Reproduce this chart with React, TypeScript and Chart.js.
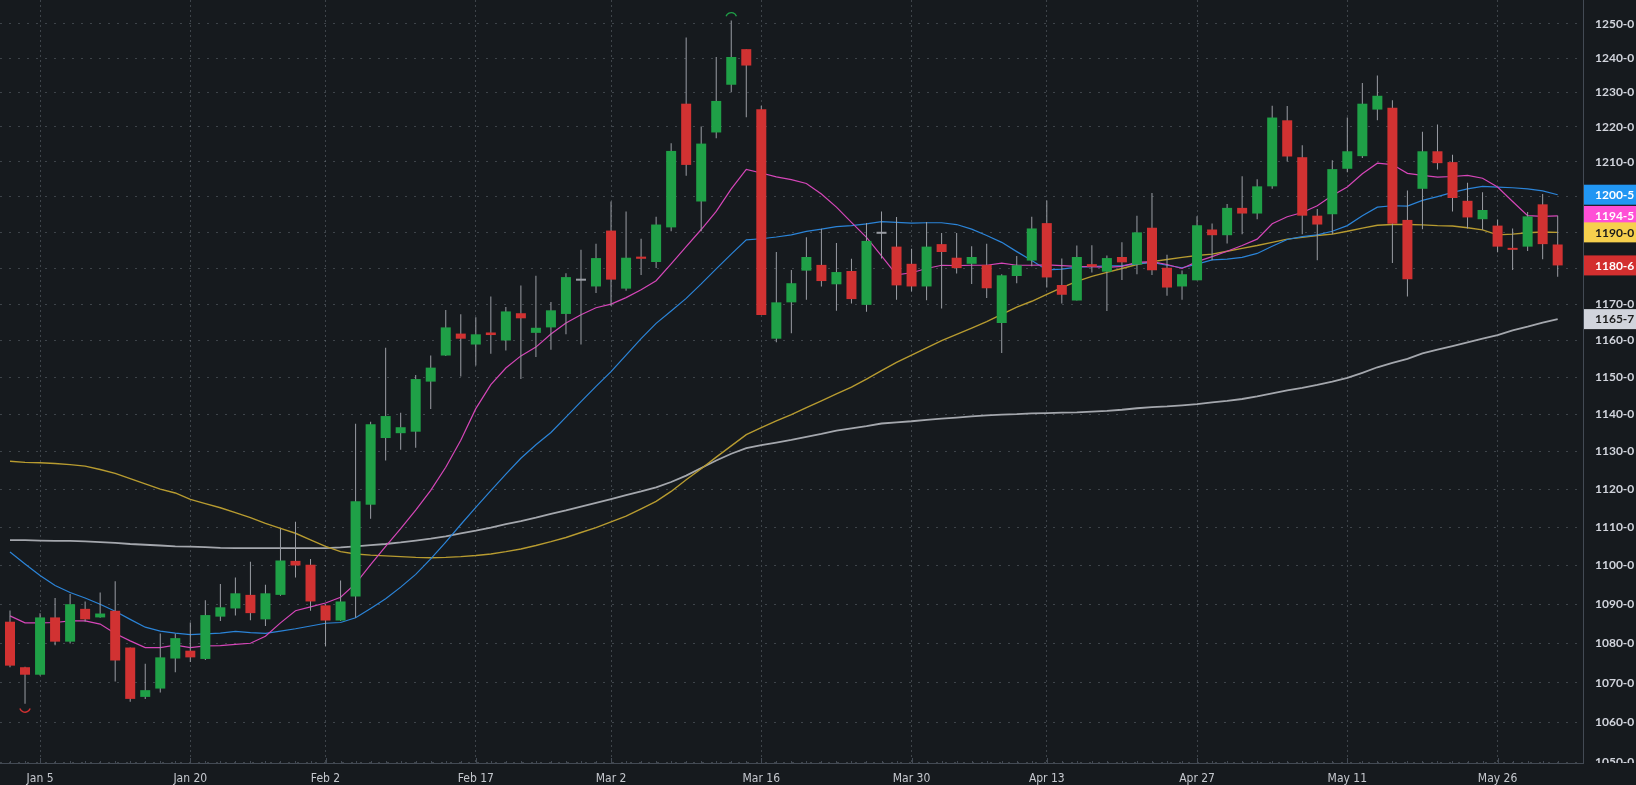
import React, { useEffect, useRef } from "react";
import { Chart, registerables } from "chart.js";

Chart.register(...registerables);

// ---------- data ----------
const opens = [
  1085.5, 1073.9, 1072.0, 1086.6, 1080.4, 1088.8, 1086.6, 1088.3, 1078.9, 1066.4,
  1068.5, 1076.1, 1078.1, 1076.0, 1086.8, 1088.9, 1092.4, 1086.1, 1092.4, 1101.2,
  1100.2, 1089.7, 1085.8, 1092.0, 1115.9, 1133.6, 1134.9, 1135.3, 1148.8, 1155.9,
  1161.9, 1158.9, 1162.2, 1160.0, 1167.5, 1162.1, 1163.6, 1167.3, 1176.5, 1174.9,
  1190.5, 1174.3, 1183.2, 1181.7, 1191.4, 1226.7, 1198.7, 1218.4, 1232.2, 1242.6,
  1225.1, 1160.5, 1170.5, 1179.3, 1180.9, 1175.5, 1179.2, 1169.8, 1189.6, 1186.0,
  1181.2, 1174.9, 1186.7, 1182.9, 1181.2, 1180.9, 1164.8, 1177.8, 1182.1, 1192.6,
  1175.3, 1171.0, 1181.1, 1179.0, 1183.1, 1181.0, 1191.3, 1180.1, 1174.9, 1176.6,
  1190.8, 1189.2, 1196.9, 1195.3, 1203.0, 1221.9, 1211.3, 1194.7, 1195.1, 1208.0,
  1211.6, 1225.0, 1225.5, 1193.5, 1202.3, 1213.0, 1209.9, 1198.9, 1193.7, 1191.9,
  1185.3, 1186.0, 1197.9, 1186.6,
];
const highs = [
  1088.4, 1074.0, 1087.7, 1091.6, 1092.6, 1090.7, 1093.0, 1095.9, 1078.9, 1074.8,
  1082.5, 1082.4, 1085.3, 1091.0, 1095.2, 1096.9, 1101.0, 1095.0, 1109.5, 1111.4,
  1101.7, 1090.0, 1096.1, 1137.4, 1138.0, 1158.0, 1140.4, 1150.6, 1155.9, 1168.4,
  1167.2, 1166.4, 1172.1, 1169.2, 1175.2, 1177.9, 1170.6, 1178.6, 1185.1, 1186.8,
  1198.7, 1195.9, 1188.2, 1194.4, 1215.3, 1246.0, 1220.1, 1240.3, 1251.0, 1242.6,
  1226.1, 1184.5, 1179.5, 1188.6, 1191.0, 1187.0, 1182.6, 1192.6, 1195.9, 1194.3,
  1185.4, 1192.9, 1189.8, 1189.8, 1186.1, 1186.8, 1178.3, 1183.4, 1194.4, 1199.0,
  1182.7, 1186.3, 1186.4, 1183.5, 1187.2, 1194.7, 1201.1, 1183.7, 1179.3, 1194.5,
  1192.5, 1198.0, 1205.9, 1205.0, 1226.1, 1226.0, 1214.7, 1196.6, 1210.4, 1222.7,
  1232.7, 1234.9, 1227.7, 1201.8, 1218.6, 1220.7, 1212.0, 1204.0, 1201.3, 1193.6,
  1191.1, 1195.7, 1200.8, 1194.7,
];
const lows = [
  1073.9, 1064.7, 1071.8, 1079.5, 1079.9, 1085.5, 1086.5, 1070.3, 1065.2, 1065.9,
  1067.5, 1072.6, 1075.2, 1075.7, 1085.7, 1087.1, 1085.9, 1084.4, 1092.2, 1096.9,
  1088.3, 1079.2, 1085.7, 1086.5, 1112.2, 1127.6, 1130.5, 1131.0, 1141.4, 1155.8,
  1150.2, 1153.2, 1156.4, 1157.3, 1149.5, 1155.5, 1157.5, 1161.7, 1158.9, 1173.1,
  1169.5, 1173.7, 1178.1, 1180.0, 1190.3, 1206.0, 1190.3, 1216.7, 1230.0, 1222.8,
  1167.0, 1159.5, 1162.0, 1171.2, 1174.9, 1168.2, 1170.2, 1167.9, 1182.7, 1171.2,
  1173.5, 1171.1, 1168.8, 1178.5, 1175.6, 1171.7, 1156.6, 1175.8, 1180.5, 1174.6,
  1170.2, 1171.0, 1178.8, 1168.1, 1176.7, 1178.3, 1178.1, 1172.3, 1171.2, 1176.6,
  1182.2, 1186.9, 1189.5, 1193.7, 1202.3, 1210.1, 1189.5, 1182.2, 1189.5, 1207.0,
  1211.1, 1221.9, 1181.4, 1172.1, 1190.9, 1207.8, 1195.9, 1191.1, 1190.7, 1184.4,
  1179.5, 1184.8, 1182.5, 1177.6,
];
const closes = [
  1074.3, 1072.0, 1086.6, 1080.4, 1090.0, 1086.1, 1087.6, 1075.6, 1065.9, 1068.1,
  1076.4, 1081.3, 1076.4, 1087.2, 1089.2, 1092.8, 1087.7, 1092.8, 1101.3, 1100.0,
  1090.7, 1085.8, 1090.7, 1116.8, 1137.3, 1139.5, 1136.5, 1149.5, 1152.6, 1163.6,
  1160.5, 1161.7, 1161.5, 1168.0, 1166.1, 1163.5, 1168.3, 1177.5, 1176.5, 1182.8,
  1176.8, 1182.9, 1182.6, 1192.2, 1213.1, 1209.1, 1215.2, 1227.5, 1240.3, 1237.8,
  1167.0, 1170.5, 1175.8, 1183.1, 1176.4, 1178.9, 1171.4, 1187.6, 1189.6, 1175.2,
  1174.9, 1186.0, 1184.5, 1180.0, 1183.1, 1174.4, 1178.0, 1180.8, 1191.1, 1177.4,
  1172.6, 1183.1, 1180.4, 1182.8, 1181.6, 1190.0, 1179.4, 1174.6, 1178.3, 1192.0,
  1189.2, 1196.9, 1195.3, 1203.0, 1222.7, 1211.5, 1194.7, 1192.2, 1207.9, 1213.0,
  1226.7, 1229.0, 1192.4, 1176.9, 1213.0, 1209.6, 1199.7, 1194.2, 1196.3, 1186.0,
  1185.1, 1194.5, 1186.7, 1180.75,
];
// moving averages (pink, blue, yellow, grey)
const maPink = [
  1087.0, 1085.2, 1085.2, 1085.3, 1085.7, 1085.7, 1084.9, 1082.5, 1080.6, 1078.9,
  1078.9, 1079.5, 1078.9, 1079.3, 1079.4, 1079.7, 1080.0, 1081.8, 1085.2, 1088.3,
  1089.3, 1090.3, 1091.8, 1095.3, 1100.2, 1105.0, 1109.6, 1114.5, 1119.7, 1125.8,
  1133.0, 1141.5, 1148.0, 1152.5, 1155.8, 1158.2, 1161.8, 1164.8, 1167.1, 1169.0,
  1170.0, 1171.8, 1174.0, 1176.5, 1181.2, 1186.0, 1190.8, 1195.9, 1202.3, 1207.8,
  1206.8, 1205.7, 1204.9, 1203.8, 1200.8, 1197.1, 1192.8, 1188.6, 1183.4, 1178.1,
  1178.7, 1179.9, 1180.8, 1180.7, 1180.8, 1180.8, 1181.4, 1180.8, 1180.8, 1180.9,
  1180.7, 1180.5, 1180.4, 1180.2, 1180.5, 1181.6, 1181.8, 1181.0, 1179.9, 1181.8,
  1183.2, 1184.7, 1186.3, 1188.1, 1192.4, 1194.4, 1195.6, 1197.5, 1200.4, 1202.8,
  1206.6, 1209.6, 1209.2, 1206.7, 1206.1, 1205.6, 1205.8, 1206.1, 1205.3, 1202.8,
  1198.7, 1194.7, 1194.5, 1194.625,
];
const maBlue = [
  1103.5, 1100.4, 1097.4, 1094.8, 1093.0, 1091.6, 1090.0, 1088.2, 1086.1, 1084.1,
  1083.1, 1082.6, 1082.2, 1082.4, 1082.6, 1083.0, 1082.7, 1082.5, 1083.1, 1083.7,
  1084.4, 1085.1, 1085.3, 1086.5, 1088.9, 1091.4, 1094.4, 1097.7, 1101.7, 1106.1,
  1110.7, 1115.2, 1119.6, 1124.0, 1128.2, 1131.8, 1135.1, 1139.2, 1143.4, 1147.5,
  1151.5, 1156.0, 1160.5, 1164.7, 1168.1, 1171.6, 1175.6, 1179.8, 1183.9, 1187.9,
  1188.2, 1188.7, 1189.3, 1190.3, 1190.9, 1191.6, 1191.9, 1192.4, 1193.0, 1192.8,
  1192.6, 1192.7, 1192.7, 1192.2, 1190.9, 1189.1, 1187.2, 1184.6, 1182.1, 1179.5,
  1179.7, 1180.3, 1180.4, 1180.6, 1180.7, 1181.2, 1181.6, 1180.8, 1180.1, 1181.1,
  1182.3, 1182.5, 1183.0, 1184.1, 1186.1, 1188.0, 1188.8, 1189.3, 1190.3, 1191.9,
  1194.7, 1197.1, 1197.5, 1197.4, 1199.0, 1200.1, 1201.3, 1202.3, 1203.0, 1202.8,
  1202.6, 1202.3, 1201.7, 1200.625,
];
const maYellow = [
  1127.4, 1127.1, 1127.0, 1126.8, 1126.5, 1126.1, 1125.2, 1124.2, 1122.8, 1121.4,
  1120.0, 1119.0, 1117.3, 1116.2, 1115.1, 1113.8, 1112.5, 1111.0, 1109.7, 1108.4,
  1106.7, 1105.0, 1103.6, 1103.0, 1102.7, 1102.5, 1102.3, 1102.1, 1102.0, 1102.1,
  1102.3, 1102.6, 1103.0, 1103.6, 1104.3, 1105.2, 1106.2, 1107.3, 1108.6, 1109.9,
  1111.4, 1112.9, 1114.8, 1116.8, 1119.4, 1122.5, 1125.4, 1128.5, 1131.5, 1134.5,
  1136.4, 1138.2, 1139.9, 1141.8, 1143.6, 1145.5, 1147.3, 1149.5, 1151.8, 1154.0,
  1156.0, 1158.0, 1160.0, 1161.7, 1163.4, 1165.2, 1167.2, 1169.2, 1170.8, 1172.7,
  1174.6, 1176.3, 1177.7, 1178.8, 1179.9, 1181.0, 1181.8, 1182.4, 1183.0, 1183.5,
  1183.9, 1184.7, 1185.5, 1186.3, 1187.2, 1188.1, 1188.6, 1189.1, 1189.5, 1190.3,
  1191.2, 1192.0, 1192.2, 1192.2, 1192.1, 1191.9, 1191.8, 1191.3, 1190.7, 1189.3,
  1189.5, 1189.9, 1190.1, 1190.0,
];
const maGrey = [
  1106.6, 1106.6, 1106.5, 1106.4, 1106.4, 1106.3, 1106.1, 1105.9, 1105.6, 1105.4,
  1105.2, 1105.0, 1104.9, 1104.8, 1104.6, 1104.5, 1104.5, 1104.5, 1104.5, 1104.5,
  1104.5, 1104.5, 1104.7, 1105.0, 1105.3, 1105.6, 1106.0, 1106.5, 1107.0, 1107.6,
  1108.4, 1109.1, 1109.9, 1110.8, 1111.6, 1112.5, 1113.5, 1114.4, 1115.4, 1116.4,
  1117.4, 1118.4, 1119.4, 1120.5, 1121.9, 1123.6, 1125.6, 1127.6, 1129.4, 1130.9,
  1131.7, 1132.4, 1133.1, 1133.9, 1134.7, 1135.6, 1136.2, 1136.8, 1137.5, 1137.8,
  1138.1, 1138.5, 1138.8, 1139.1, 1139.4, 1139.7, 1139.9, 1140.0, 1140.2, 1140.3,
  1140.4, 1140.5, 1140.7, 1140.9, 1141.2, 1141.6, 1141.9, 1142.1, 1142.4, 1142.7,
  1143.2, 1143.6, 1144.1, 1144.8, 1145.6, 1146.4, 1147.1, 1147.9, 1148.8, 1149.8,
  1151.2, 1152.7, 1153.9, 1155.0, 1156.5, 1157.5, 1158.5, 1159.5, 1160.5, 1161.5,
  1162.8, 1163.8, 1164.9, 1165.875,
];
const tickIdx = [2, 12, 21, 31, 40, 50, 60, 69, 79, 89, 99];
const tickLabels = ["Jan 5", "Jan 20", "Feb 2", "Feb 17", "Mar 2", "Mar 16", "Mar 30", "Apr 13", "Apr 27", "May 11", "May 26"];
const yTicks = [1050, 1060, 1070, 1080, 1090, 1100, 1110, 1120, 1130, 1140, 1150, 1160, 1170, 1180, 1190, 1200, 1210, 1220, 1230, 1240, 1250];

// ---------- styling ----------
const BG = "#161a1e";
const GREEN = "#1fa047";
const RED = "#d13232";
const WICK = "#9a9da4";
const AXIS = "#434a54";
const GRID = "rgba(130,136,146,0.38)";
const C_PINK = "#d546b8";
const C_BLUE = "#2b84d8";
const C_YELLOW = "#b79b30";
const C_GREY = "#a4a7ad";
const NARROW = "'Liberation Sans Narrow', 'DejaVu Sans Condensed', 'Arial Narrow', sans-serif";

function fmt8(v: number) {
  let w = Math.floor(v);
  let f = Math.round((v - w) * 8);
  if (f === 8) { w += 1; f = 0; }
  return `${w}-${f}`;
}

const bgPlugin = {
  id: "bgFill",
  beforeDraw(chart: any) {
    const { ctx, width, height } = chart;
    ctx.save();
    ctx.fillStyle = BG;
    ctx.fillRect(0, 0, width, height);
    ctx.restore();
  },
};

const decorPlugin = {
  id: "decor",
  afterDraw(chart: any) {
    const { ctx, chartArea, scales } = chart;
    const x = scales.x;
    const y = scales.y;
    ctx.save();
    // small ticks on x axis
    ctx.strokeStyle = AXIS;
    ctx.lineWidth = 1;
    for (let i = 0; i < closes.length; i++) {
      const px = Math.round(x.getPixelForValue(i)) + 0.5;
      ctx.beginPath();
      ctx.moveTo(px, chartArea.bottom);
      ctx.lineTo(px, chartArea.bottom - 2);
      ctx.stroke();
    }
    for (const t of tickIdx) {
      const px = Math.round(x.getPixelForValue(t)) + 0.5;
      ctx.beginPath();
      ctx.moveTo(px, chartArea.bottom);
      ctx.lineTo(px, chartArea.bottom - 5);
      ctx.stroke();
    }
    // bottom label on the price axis, cut by the time axis
    ctx.save();
    ctx.beginPath();
    ctx.rect(chartArea.right + 1, 0, chart.width - chartArea.right, chartArea.bottom);
    ctx.clip();
    ctx.fillStyle = "#d1d4dc";
    ctx.font = "bold 12px Lato, 'Open Sans', sans-serif";
    ctx.textBaseline = "middle";
    ctx.textAlign = "left";
    ctx.fillText(`${yTicks[0]}-0`, chartArea.right + 12, y.getPixelForValue(yTicks[0]));
    ctx.restore();

    // last value labels
    const n = closes.length - 1;
    const items = [
      { v: maBlue[n], bg: "#2196f3", fg: "#ffffff" },
      { v: maPink[n], bg: "#ff4fd6", fg: "#ffffff" },
      { v: maYellow[n], bg: "#f6d04d", fg: "#1b1b1b" },
      { v: closes[n], bg: "#d32f2f", fg: "#ffffff" },
      { v: maGrey[n], bg: "#d1d4dc", fg: "#1b1b1b" },
    ];
    const H = 20;
    ctx.font = "bold 12px Lato, 'Open Sans', sans-serif";
    ctx.textBaseline = "middle";
    ctx.textAlign = "left";
    for (const it of items) {
      const py = y.getPixelForValue(it.v);
      ctx.fillStyle = it.bg;
      ctx.fillRect(chartArea.right + 1, py - H / 2, chart.width - chartArea.right - 1, H);
      ctx.fillStyle = it.fg;
      ctx.fillText(fmt8(it.v), chartArea.right + 12, py + 0.5);
    }
    ctx.restore();
  },
};

const markerPlugin = {
  id: "hiLoMarkers",
  afterDatasetsDraw(chart: any) {
    const { ctx, scales } = chart;
    const x = scales.x;
    const y = scales.y;
    let hi = 0;
    let lo = 0;
    highs.forEach((v, i) => { if (v > highs[hi]) hi = i; });
    lows.forEach((v, i) => { if (v < lows[lo]) lo = i; });
    ctx.save();
    ctx.lineWidth = 1.4;
    ctx.strokeStyle = GREEN;
    ctx.beginPath();
    ctx.arc(x.getPixelForValue(hi), y.getPixelForValue(highs[hi]) - 2.5, 5.5, Math.PI + 0.35, 2 * Math.PI - 0.35);
    ctx.stroke();
    ctx.strokeStyle = RED;
    ctx.beginPath();
    ctx.arc(x.getPixelForValue(lo), y.getPixelForValue(lows[lo]) + 3, 5.5, 0.35, Math.PI - 0.35);
    ctx.stroke();
    ctx.restore();
  },
};

export default function App() {
  const ref = useRef<HTMLCanvasElement | null>(null);

  useEffect(() => {
    document.body.style.margin = "0";
    document.body.style.background = BG;
    const canvas = ref.current;
    if (!canvas) return;
    const idx = closes.map((_, i) => i);
    const bodyColors = idx.map((i) =>
      closes[i] > opens[i] ? GREEN : closes[i] < opens[i] ? RED : WICK
    );
    const line = (data: number[], color: string, width: number, order: number) => ({
      type: "line",
      data: idx.map((i) => ({ x: i, y: data[i] })),
      borderColor: color,
      borderWidth: width,
      pointRadius: 0,
      pointHoverRadius: 0,
      tension: 0,
      fill: false,
      order,
    });

    const chart = new Chart(canvas, {
      type: "line",
      data: {
        datasets: [
          line(maGrey, C_GREY, 1.8, 20),
          line(maYellow, C_YELLOW, 1.4, 19),
          line(maBlue, C_BLUE, 1.2, 18),
          line(maPink, C_PINK, 1.2, 17),
          {
            type: "bar",
            data: idx.map((i) => ({ x: i, y: [lows[i], highs[i]] })),
            backgroundColor: WICK,
            barThickness: 1,
            grouped: false,
            borderWidth: 0,
            inflateAmount: 0,
            order: 5,
          },
          {
            type: "bar",
            data: idx.map((i) => ({ x: i, y: [opens[i], closes[i]] })),
            backgroundColor: bodyColors,
            barThickness: 10,
            grouped: false,
            borderWidth: 0,
            minBarLength: 2,
            inflateAmount: 0,
            order: 4,
          },
        ] as any,
      },
      options: {
        responsive: false,
        animation: false,
        events: [],
        layout: { padding: 0, autoPadding: false },
        plugins: {
          legend: { display: false },
          tooltip: { enabled: false },
          title: { display: false },
        },
        scales: {
          x: {
            type: "linear",
            min: -0.6655,
            max: 104.685,
            offset: false,
            afterBuildTicks: (s: any) => {
              s.ticks = tickIdx.map((v) => ({ value: v }));
            },
            afterFit: (s: any) => {
              s.height = 22;
              s.paddingLeft = 0;
              s.paddingRight = 0;
              s.paddingTop = 0;
              s.paddingBottom = 0;
            },
            ticks: {
              autoSkip: false,
              maxRotation: 0,
              color: "#c5c8ce",
              padding: 9,
              font: { family: NARROW, size: 12 },
              callback: (_v: any, i: number) => tickLabels[i] ?? "",
            },
            grid: {
              color: GRID,
              drawTicks: false,
              offset: false,
            },
            border: { color: AXIS, width: 1, dash: [2, 3] },
          },
          y: {
            type: "logarithmic",
            position: "right",
            min: 1049.89,
            max: 1257.1,
            bounds: "data",
            afterBuildTicks: (s: any) => {
              s.ticks = yTicks.map((v) => ({ value: v }));
            },
            afterFit: (s: any) => {
              s.width = 53;
              s.paddingLeft = 0;
              s.paddingRight = 0;
              s.paddingTop = 0;
              s.paddingBottom = 0;
            },
            ticks: {
              autoSkip: false,
              color: "#d1d4dc",
              padding: 12,
              font: { family: "Lato, 'Open Sans', sans-serif", size: 12, weight: "bold" },
              callback: (v: any) => (v === yTicks[0] ? "" : `${v}-0`),
            },
            grid: {
              color: GRID,
              drawTicks: false,
            },
            border: { color: AXIS, width: 1, dash: [2, 7] },
          },
        },
      } as any,
      plugins: [bgPlugin, markerPlugin, decorPlugin],
    });
    return () => chart.destroy();
  }, []);

  return (
    <div style={{ width: 1636, height: 785, background: BG }}>
      <canvas ref={ref} width={1636} height={785} style={{ display: "block" }} />
    </div>
  );
}
